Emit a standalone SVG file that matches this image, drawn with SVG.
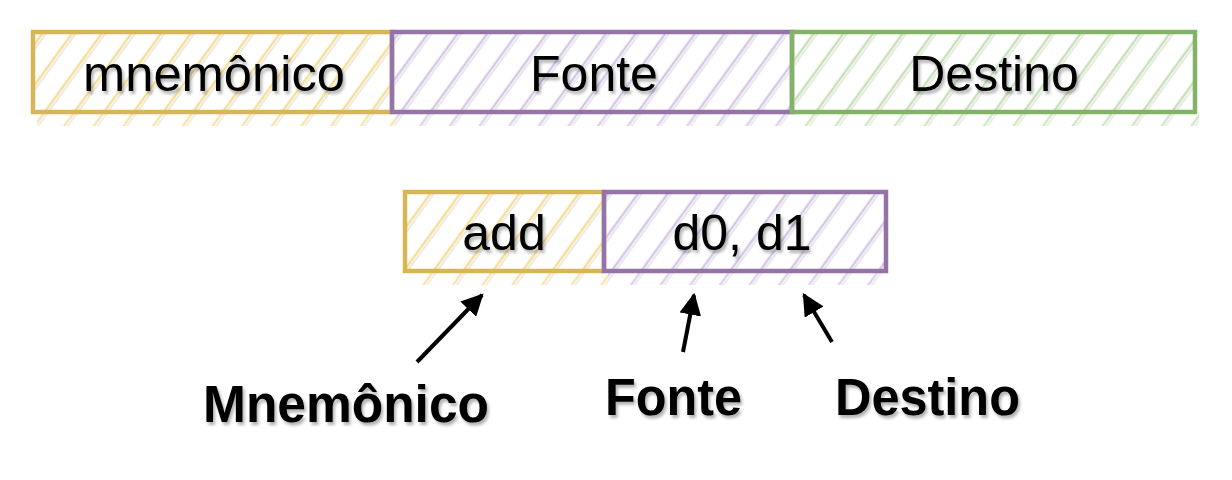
<svg xmlns="http://www.w3.org/2000/svg" width="1232" height="480" viewBox="0 0 1232 480">
<defs>
<pattern id="hy" width="24" height="24" patternUnits="userSpaceOnUse" patternTransform="rotate(36)"><line x1="6" y1="0" x2="6" y2="24" stroke="#f5df98" stroke-width="2.5"/><line x1="9" y1="0" x2="9" y2="24" stroke="#e8e4d8" stroke-width="1.5"/></pattern>
<pattern id="hp" width="24" height="24" patternUnits="userSpaceOnUse" patternTransform="rotate(36)"><line x1="6" y1="0" x2="6" y2="24" stroke="#d6c8e4" stroke-width="2.5"/><line x1="9" y1="0" x2="9" y2="24" stroke="#e2e0e8" stroke-width="1.5"/></pattern>
<pattern id="hg" width="24" height="24" patternUnits="userSpaceOnUse" patternTransform="rotate(36)"><line x1="6" y1="0" x2="6" y2="24" stroke="#c8e0b8" stroke-width="2.5"/><line x1="9" y1="0" x2="9" y2="24" stroke="#dfe6da" stroke-width="1.5"/></pattern>
<filter id="ts" x="-10%" y="-20%" width="130%" height="150%"><feDropShadow dx="2" dy="3" stdDeviation="1.5" flood-color="#000" flood-opacity="0.3"/></filter>
<marker id="ah" viewBox="0 0 10 10" refX="9" refY="5" markerWidth="5.5" markerHeight="5.5" orient="auto"><path d="M0,0 L10,5 L0,10 z" fill="#000"/></marker>
</defs>
<style>
.box{stroke-width:4.5;}
.y{stroke:#d6b656;}
.p{stroke:#9673a6;}
.g{stroke:#82b366;}
.t{font-family:"Liberation Sans",Arial,sans-serif;font-size:50px;fill:#000;text-anchor:middle;filter:url(#ts);}
.b{font-family:"Liberation Sans",Arial,sans-serif;font-size:51px;font-weight:bold;fill:#000;text-anchor:middle;filter:url(#ts);}
.c{stroke:#000;stroke-width:4;fill:none;marker-end:url(#ah);}
</style>
<rect x="0" y="0" width="1232" height="480" fill="#fff"/>
<g id="n-mnemonico">
<rect x="37" y="112" width="359" height="14" fill="url(#hy)" opacity="0.8"/>
<rect class="box y" x="33" y="32" width="359" height="80" fill="url(#hy)"/>
<text class="t" x="214" y="91" textLength="262" lengthAdjust="spacingAndGlyphs">mnemônico</text>
</g>
<g id="n-fonte">
<rect x="396" y="112" width="400" height="14" fill="url(#hp)" opacity="0.8"/>
<rect class="box p" x="392" y="32" width="400" height="80" fill="url(#hp)"/>
<text class="t" x="594" y="91">Fonte</text>
</g>
<g id="n-destino">
<rect x="796" y="112" width="403" height="14" fill="url(#hg)" opacity="0.8"/>
<rect class="box g" x="792" y="32" width="403" height="80" fill="url(#hg)"/>
<text class="t" x="994" y="91">Destino</text>
</g>
<g id="n-add">
<rect x="409" y="271" width="199" height="14" fill="url(#hy)" opacity="0.8"/>
<rect class="box y" x="405" y="192" width="199" height="79" fill="url(#hy)"/>
<text class="t" x="504" y="250">add</text>
</g>
<g id="n-d0d1">
<rect x="608" y="271" width="282" height="14" fill="url(#hp)" opacity="0.8"/>
<rect class="box p" x="604" y="192" width="282" height="79" fill="url(#hp)"/>
<text class="t" x="742" y="250">d0, d1</text>
</g>
<g id="connectors">
<line class="c" x1="417" y1="362" x2="482" y2="295"/>
<line class="c" x1="683" y1="352" x2="694" y2="295"/>
<line class="c" x1="832" y1="342" x2="804" y2="295"/>
</g>
<g id="labels">
<text class="b" x="346" y="422" textLength="286" lengthAdjust="spacingAndGlyphs">Mnemônico</text>
<text class="b" x="673.5" y="415" textLength="137" lengthAdjust="spacingAndGlyphs">Fonte</text>
<text class="b" x="927.5" y="415" textLength="185" lengthAdjust="spacingAndGlyphs">Destino</text>
</g>
</svg>
